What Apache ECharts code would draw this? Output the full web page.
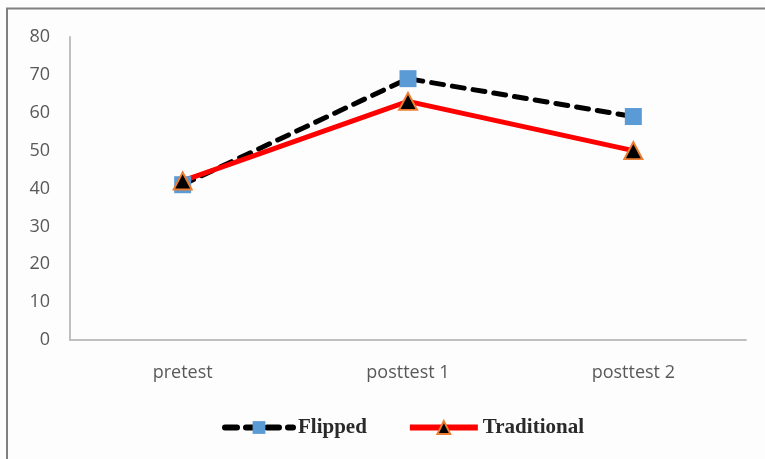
<!DOCTYPE html>
<html>
<head>
<meta charset="utf-8">
<script src="https://cdn.jsdelivr.net/npm/echarts@6/dist/echarts.min.js"></script>
<style>
html, body { margin: 0; padding: 0; background: #fff; }
#main { width: 765px; height: 459px; }
</style>
</head>
<body>
<div id="main"></div>
<script>
var categories = ['pretest', 'posttest 1', 'posttest 2'];
var flipped = [41, 69, 59];
var traditional = [42, 63, 50];
var yTicks = [0, 10, 20, 30, 40, 50, 60, 70, 80];

var chart = echarts.init(document.getElementById('main'));

var option = {
	backgroundColor: '#fdfdfd',
	animation: false,
	graphic: [{
		type: 'polyline',
		shape: { points: [[7, 459], [7, 8.5], [765, 8.5]] },
		style: { stroke: '#808080', lineWidth: 2, fill: null }
	}],
	grid: {
		left: 70,
		right: 19,
		top: 37,
		bottom: 119,
		containLabel: false
	},
	legend: {
		bottom: 16,
		left: 217,
		itemWidth: 68,
		itemHeight: 16,
		itemGap: 40,
		lineStyle: { width: 6 },
		textStyle: {
			fontFamily: 'Liberation Serif',
			fontSize: 21,
			fontWeight: 'bold',
			color: '#2a2a2a'
		},
		data: ['Flipped', 'Traditional']
	},
	xAxis: {
		type: 'category',
		data: categories,
		boundaryGap: true,
		axisTick: { show: false },
		axisLine: { lineStyle: { color: '#bfbfbf', width: 2 } },
		axisLabel: {
			color: '#595959',
			fontSize: 18,
			fontFamily: 'Open Sans',
			margin: 24
		}
	},
	yAxis: {
		type: 'value',
		min: yTicks[0],
		max: yTicks[yTicks.length - 1],
		interval: 10,
		splitLine: { show: false },
		axisTick: { show: false },
		axisLine: { show: true, lineStyle: { color: '#bfbfbf', width: 2 } },
		axisLabel: {
			color: '#595959',
			fontSize: 18,
			fontFamily: 'Open Sans',
			margin: 20
		}
	},
	series: [{
		name: 'Flipped',
		type: 'line',
		data: flipped,
		symbol: 'rect',
		symbolSize: 17,
		itemStyle: { color: '#5b9bd5' },
		lineStyle: {
			color: '#000',
			width: 5,
			type: [12, 9],
			cap: 'round'
		}
	}, {
		name: 'Traditional',
		type: 'line',
		data: traditional,
		symbol: 'triangle',
		symbolSize: [18, 17],
		itemStyle: { color: '#000', borderColor: '#ed7d31', borderWidth: 2 },
		lineStyle: {
			color: '#ff0000',
			width: 5
		}
	}]
};
chart.setOption(option);
</script>
</body>
</html>
